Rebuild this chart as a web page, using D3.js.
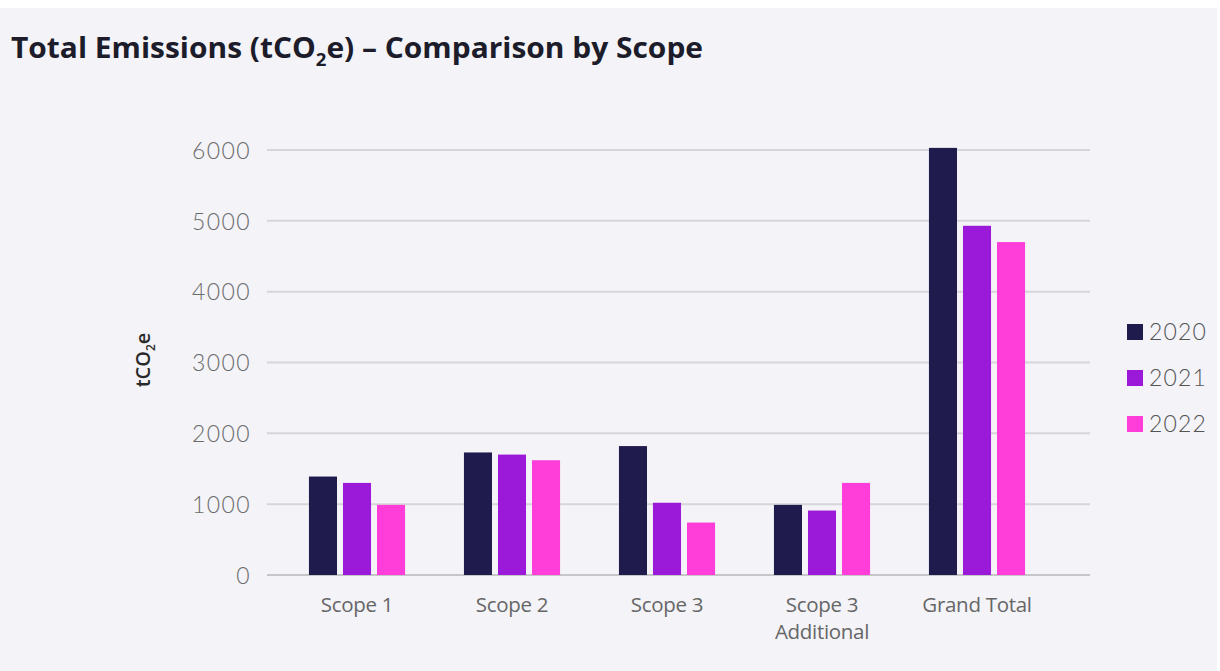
<!DOCTYPE html>
<html>
<head>
<meta charset="utf-8">
<script src="https://cdn.jsdelivr.net/npm/d3@7"></script>
<style>
  html, body { margin: 0; padding: 0; background: #ffffff; }
  svg { display: block; }
</style>
</head>
<body>
<svg id="chart" width="1220" height="671"></svg>
<script>
const categories = ["Scope 1", "Scope 2", "Scope 3", "Scope 3\nAdditional", "Grand Total"];
const years = ["2020", "2021", "2022"];
const values2020 = [1390, 1730, 1820, 990, 6030];
const values2021 = [1300, 1700, 1020, 910, 4930];
const values2022 = [990, 1620, 740, 1300, 4700];
const yTicks = [0, 1000, 2000, 3000, 4000, 5000, 6000];
const colors = ["#201b4d", "#9b19d8", "#ff3dd8"];

const seriesValues = [values2020, values2021, values2022];
const data = categories.map((c, i) => ({
  category: c,
  bars: years.map((y, j) => ({ year: y, value: seriesValues[j][i] }))
}));

const svg = d3.select("#chart");
// background panel
svg.append("rect").attr("x", 0).attr("y", 8).attr("width", 1217).attr("height", 663).attr("fill", "#f3f3f8");

const y = d3.scaleLinear().domain([0, 6000]).range([575, 150]);
const x0 = d3.scaleBand().domain(categories).range([279.5, 1054.5]).paddingInner(0.38).paddingOuter(0.19);
const x1 = d3.scaleBand().domain(years).range([0, x0.bandwidth()]).paddingInner(0.176).paddingOuter(0);
const color = d3.scaleOrdinal().domain(years).range(colors);

const gridLeft = 267, gridRight = 1090;

// gridlines
svg.append("g").selectAll("line").data(yTicks).join("line")
  .attr("x1", gridLeft).attr("x2", gridRight)
  .attr("y1", d => y(d)).attr("y2", d => y(d))
  .attr("stroke", d => d === 0 ? "#c6c6c9" : "#d6d6da")
  .attr("stroke-width", 2);

// y axis tick labels
const yAxis = d3.axisLeft(y).tickValues(yTicks).tickSize(0).tickPadding(0).tickFormat(d3.format("d"));
const gy = svg.append("g").attr("transform", "translate(251,0)").call(yAxis);
gy.select(".domain").remove();
gy.selectAll("text")
  .attr("font-family", "Lato, 'Open Sans', sans-serif")
  .attr("font-weight", 300)
  .attr("font-size", 23)
  .attr("letter-spacing", 1.4)
  .attr("fill", "#6b6b6b")
  .attr("dy", "0.36em");

// bars
const groups = svg.append("g").selectAll("g").data(data).join("g")
  .attr("transform", d => `translate(${x0(d.category)},0)`);
groups.selectAll("rect").data(d => d.bars).join("rect")
  .attr("x", d => x1(d.year))
  .attr("width", x1.bandwidth())
  .attr("y", d => y(d.value))
  .attr("height", d => y(0) - y(d.value))
  .attr("fill", d => color(d.year));

// x axis labels
const xAxis = d3.axisBottom(x0).tickSize(0).tickPadding(0);
const gx = svg.append("g").attr("transform", "translate(0,575)").call(xAxis);
gx.select(".domain").remove();
gx.selectAll("text").each(function(d) {
  const t = d3.select(this);
  t.text(null).attr("y", 0).attr("dy", null);
  const lines = d.split("\n");
  lines.forEach((ln, i) => {
    t.append("tspan").attr("x", 0).attr("y", 37 + i * 27).text(ln);
  });
})
  .attr("font-family", "'Open Sans', sans-serif")
  .attr("font-size", 20.5)
  .attr("letter-spacing", -0.3)
  .attr("fill", "#666666")
  .attr("text-anchor", "middle");

// y axis title
const yt = svg.append("text")
  .attr("transform", "translate(150,360) rotate(-90)")
  .attr("text-anchor", "middle")
  .attr("font-family", "'Open Sans', sans-serif")
  .attr("font-weight", 600)
  .attr("font-size", 20)
  .attr("fill", "#2a2a2a");
yt.append("tspan").text("tCO");
yt.append("tspan").attr("font-size", 12).attr("dy", 5).text("2");
yt.append("tspan").attr("dy", -5).text("e");

// legend
const legend = svg.append("g").selectAll("g").data(years).join("g")
  .attr("transform", (d, i) => `translate(1127,${324 + i * 46})`);
legend.append("rect").attr("width", 16).attr("height", 16).attr("fill", d => color(d));
legend.append("text")
  .attr("x", 22).attr("y", 8).attr("dy", "0.36em")
  .attr("font-family", "Lato, 'Open Sans', sans-serif")
  .attr("font-weight", 300)
  .attr("font-size", 23)
  .attr("letter-spacing", 1.2)
  .attr("fill", "#555555")
  .text(d => d);

// title
const title = svg.append("text")
  .attr("x", 11).attr("y", 58)
  .attr("font-family", "'Open Sans', sans-serif")
  .attr("font-weight", 700)
  .attr("font-size", 29)
  .attr("fill", "#1c1c2a");
title.append("tspan").text("Total Emissions (tCO");
title.append("tspan").attr("font-size", 18).attr("dy", 8).text("2");
title.append("tspan").attr("dy", -8).text("e) – Comparison by Scope");
title.attr("textLength", 692).attr("lengthAdjust", "spacingAndGlyphs");
</script>
</body>
</html>
